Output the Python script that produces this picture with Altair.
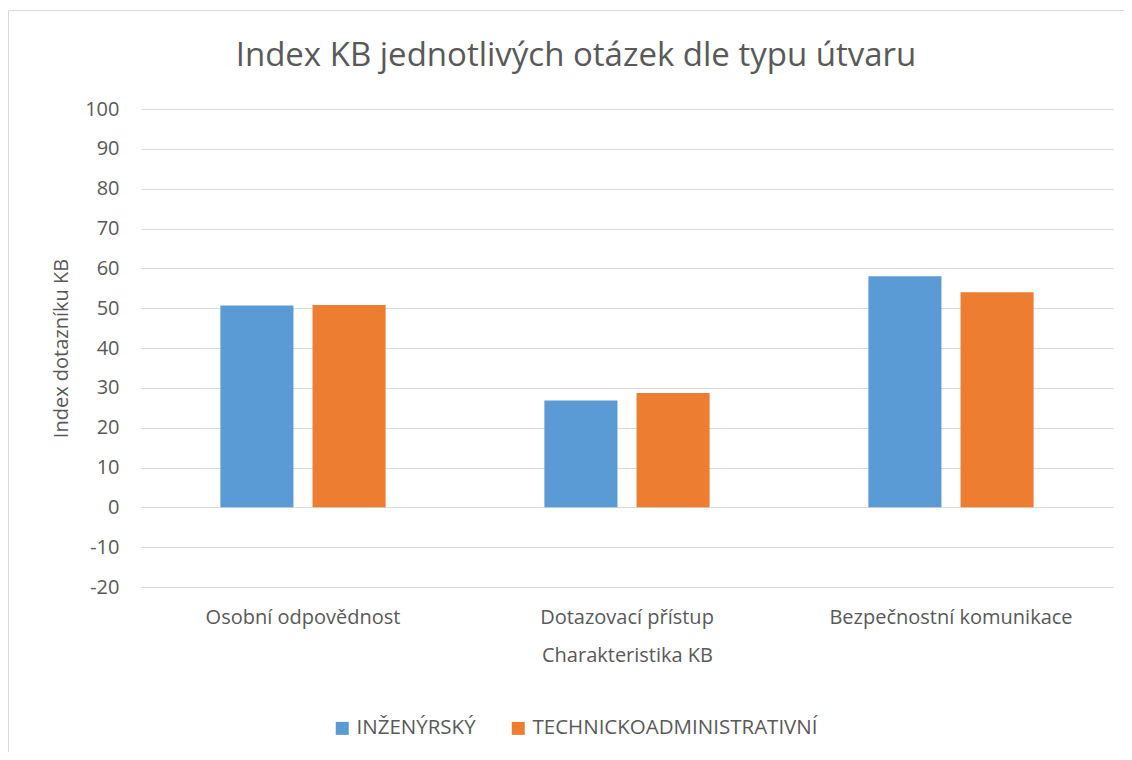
import altair as alt
import pandas as pd

categories = ["Osobní odpovědnost", "Dotazovací přístup", "Bezpečnostní komunikace"]
series = ["INŽENÝRSKÝ", "TECHNICKOADMINISTRATIVNÍ"]
inzenyrsky = [50.7, 26.8, 58.0]
technicko = [50.8, 28.7, 54.0]
y_ticks = list(range(-20, 101, 10))
colors = ["#5B9BD5", "#ED7D31"]

rows = []
for c, a, b in zip(categories, inzenyrsky, technicko):
    rows.append({"cat": c, "typ": series[0], "val": a})
    rows.append({"cat": c, "typ": series[1], "val": b})
df = pd.DataFrame(rows)

FONT = "Open Sans"
TXT = "#595959"

bars = alt.Chart(df).mark_bar().encode(
    x=alt.X(
        "cat:N",
        sort=categories,
        scale=alt.Scale(paddingInner=0.49, paddingOuter=0.245),
        axis=alt.Axis(
            title="Charakteristika KB",
            labelAngle=0,
            labelLimit=0,
            domain=False,
            ticks=False,
            tickSize=0,
            grid=False,
            labelPadding=20,
            titlePadding=18,
        ),
    ),
    xOffset=alt.XOffset(
        "typ:N", sort=series, scale=alt.Scale(paddingInner=0.207, paddingOuter=0)
    ),
    y=alt.Y(
        "val:Q",
        stack=None,
        scale=alt.Scale(domain=[-20, 100], nice=False, zero=False),
        axis=alt.Axis(
            values=y_ticks,
            labelExpr="toString(datum.value)",
            title="Index dotazníku KB",
            domain=False,
            ticks=False,
            tickSize=0,
            labelPadding=22,
            titlePadding=13,
            gridColor="#d9d9d9",
            gridWidth=1,
        ),
    ),
    color=alt.Color(
        "typ:N",
        sort=series,
        scale=alt.Scale(domain=series, range=colors),
        legend=alt.Legend(
            title=None,
            orient="none",
            direction="horizontal",
            legendX=191,
            legendY=609,
            symbolType="square",
            symbolSize=169,
            symbolStrokeWidth=0,
            labelOffset=4,
            labelLimit=0,
            columnPadding=32,
            padding=0,
        ),
    ),
)

frame = alt.Chart(pd.DataFrame({"a": [0]})).mark_rect(
    fillOpacity=0, stroke="#d9d9d9", strokeWidth=1
).encode(
    x=alt.value(-132.5), x2=alt.value(1100), y=alt.value(-98.5), y2=alt.value(700)
)

chart = (
    alt.layer(frame, bars)
    .properties(
        width=972,
        height=478,
        autosize=alt.AutoSizeParams(type="none"),
        padding={"left": 133, "top": 101, "right": 11, "bottom": 165},
        title=alt.TitleParams(
            "Index KB jednotlivých otázek dle typu útvaru",
            anchor="middle",
            frame="group",
            dx=-51,
            dy=96,
            offset=0,
            baseline="bottom",
            fontSize=33,
            fontWeight="normal",
            font=FONT,
            color=TXT,
        ),
    )
    .configure_view(stroke=None)
    .configure_axis(
        labelFont=FONT,
        titleFont=FONT,
        labelFontSize=20,
        titleFontSize=20,
        labelColor=TXT,
        titleColor=TXT,
        titleFontWeight="normal",
    )
    .configure_legend(labelFont=FONT, labelFontSize=20.5, labelColor=TXT)
)

chart.save("out.html", embed_options={"renderer": "svg", "actions": False})
